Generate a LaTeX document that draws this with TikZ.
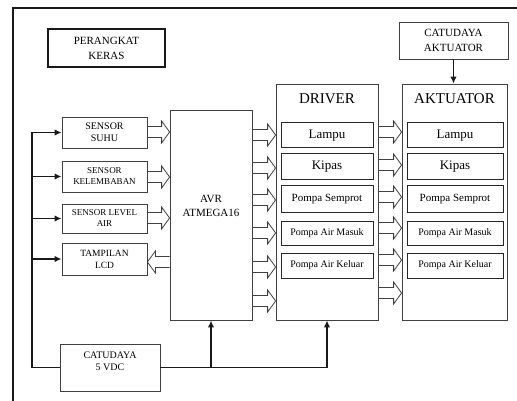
\documentclass[tikz,border=0pt]{standalone}
\usepackage{fontspec}
\setmainfont{Liberation Serif}
\usetikzlibrary{arrows.meta,calc}

\newcommand{\fsz}[2]{\fontsize{#1}{#2}\selectfont}

% hollow block arrow: from anchor #1 to anchor #2 at height #3
\newcommand{\fatarrow}[3]{%
  \draw[hollow] let \p1=(#1), \p2=(#2), \p3=(0,#3),
                    \n1={\x2-8pt*sign(\x2-\x1)} in
    (\x1,\y3+5.5pt) -- (\n1,\y3+5.5pt) -- (\n1,\y3+11pt) -- (\x2,\y3)
    -- (\n1,\y3-11pt) -- (\n1,\y3-5.5pt) -- (\x1,\y3-5.5pt);
}

\begin{document}
\begin{tikzpicture}[x=1pt, y=-1pt,
    box/.style={draw=black!75, line width=0.8pt, inner sep=0pt, align=center},
    part/.style={draw=black!85, line width=1pt, inner sep=0pt, align=center},
    hollow/.style={draw=black!75, line width=0.8pt},
    power/.style={draw=black!90, line width=1.8pt},
    feed/.style={power, -{Latex[length=7pt,width=6.5pt]}},
]
\useasboundingbox (0,0) rectangle (517,401);

% Frame
\draw[line width=2.4pt, black!90] (13,420) -- (13,8) -- (530,8);

\node[box, line width=2.4pt, draw=black!90, minimum width=117pt, minimum height=38pt,
      font=\fsz{11}{15}] (keras) at (106.5,48) {PERANGKAT\\KERAS};

% === Input / output ===
\node[box, minimum width=85pt, minimum height=31pt, font=\fsz{10}{12}] (suhu)   at (104.5,132.5) {SENSOR\\SUHU};
\node[box, minimum width=85pt, minimum height=31pt, font=\fsz{9}{11}]  (lembab) at (104.5,176.5) {SENSOR\\KELEMBABAN};
\node[box, minimum width=85pt, minimum height=29pt, font=\fsz{9}{11}]  (level)  at (104.5,218.5) {SENSOR LEVEL\\AIR};
\node[box, minimum width=85pt, minimum height=32pt, font=\fsz{9.5}{12}] (lcd)   at (104.5,259)   {TAMPILAN\\LCD};

\node[box, minimum width=100pt, minimum height=47pt] (supply) at (110,367.5) {};
\node[font=\fsz{10}{12}, align=center] (supplytxt) at (110,361) {CATUDAYA\\5 VDC};

% === Controller ===
\node[box, minimum width=82pt, minimum height=210pt] (avr) at (211,215) {};
\node[font=\fsz{11}{14}, align=center] (avrtxt) at (211,206) {AVR\\ATMEGA16};

% === Driver and actuator ===
\node[box, minimum width=102pt, minimum height=236pt] (driver) at (327,202) {};
\node[font=\fsz{15}{18}] (drivertxt) at (327,99) {DRIVER};
\node[box, minimum width=105pt, minimum height=236pt] (aktu) at (454.5,202) {};
\node[font=\fsz{15}{18}] (aktutxt) at (454.5,99) {AKTUATOR};

\node[box, minimum width=109pt, minimum height=37pt, font=\fsz{11}{15}] (catu) at (453.5,40.5) {CATUDAYA\\AKTUATOR};

\foreach \nm/\yy/\hh/\sz/\txt in {lampu/135.5/25/13/Lampu, kipas/167/26/13/Kipas,
    semprot/199/26/11/Pompa Semprot, masuk/233/24/10/Pompa Air Masuk,
    keluar/265.5/25/10/Pompa Air Keluar} {
  \node[part, minimum width=92pt, minimum height=\hh pt, font=\fsz{\sz}{\sz}] (d\nm) at (327,\yy) {\txt};
  \node[part, minimum width=96pt, minimum height=\hh pt, font=\fsz{\sz}{\sz}] (a\nm) at (455,\yy) {\txt};
}

% === Power lines ===
\coordinate (busbot) at (32,367.5);
\draw[feed] (supply.west) -- (busbot) |- (suhu.west);
\foreach \s in {lembab, level, lcd}
  \draw[feed] (busbot |- \s.west) -- (\s.west);
\draw[feed] (supply.east) -| (driver.south);
\draw[feed] (avr.south |- supply.east) -- (avr.south);
\draw[feed] (catu.south) -- (catu.south |- aktu.north);

% === Data arrows ===
\fatarrow{suhu.east}{avr.west}{132}
\fatarrow{lembab.east}{avr.west}{177}
\fatarrow{level.east}{avr.west}{218}
\fatarrow{avr.west}{lcd.east}{262}
\foreach \yy in {135,168,200,233,267,301} {\fatarrow{avr.east}{driver.west}{\yy}}
\foreach \yy in {132,165,197,228,260,293} {\fatarrow{driver.east}{aktu.west}{\yy}}
\end{tikzpicture}
\end{document}
